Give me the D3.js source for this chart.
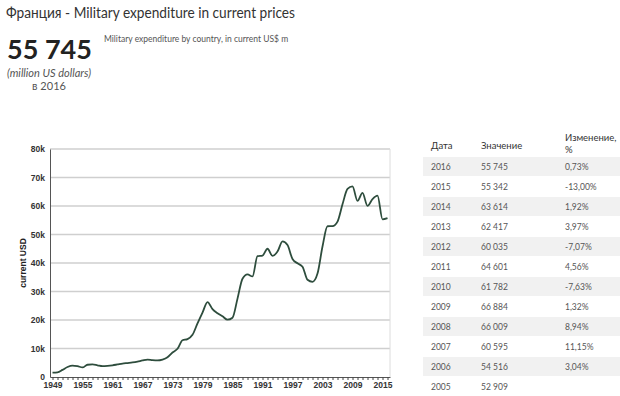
<!DOCTYPE html>
<html>
<head>
<meta charset="utf-8">
<script src="https://cdn.jsdelivr.net/npm/d3@7"></script>
<style>
  body { margin: 0; background: #fff; }
  svg { display: block; }
</style>
</head>
<body>
<script>
var width = 620,
    height = 396;

var lineColor = '#2e4d3d';

// military expenditure, current US$ m, one value per year from 1949
var firstYear = 1949;
var spending = [
  1550, 1650, 2500, 3500, 4000, 3800, 3350, 4300, 4400, 4100,
  3800, 3900, 4100, 4400, 4700, 4900, 5100, 5400, 5800, 6100,
  5900, 5800, 6100, 6900, 8600, 9900, 12900, 13300, 14800, 18800,
  22600, 26300, 23800, 22400, 21300, 20100, 20800, 27500, 34500, 36000,
  35300, 42400, 42600, 45000, 42500, 44000, 47600, 46300, 41400, 39900,
  38700, 34100, 33400, 36300, 45800, 52900, 52909, 54516, 60595, 66009,
  66884, 61782, 64601, 60035, 62417, 63614, 55342, 55745
];

var yTicks = [0, 10000, 20000, 30000, 40000, 50000, 60000, 70000, 80000];
var xLabelYears = [1949, 1955, 1961, 1967, 1973, 1979, 1985, 1991, 1997, 2003, 2009, 2015];

var tableYears = [2016, 2015, 2014, 2013, 2012, 2011, 2010, 2009, 2008, 2007, 2006, 2005];
var tableChanges = ['0,73%', '-13,00%', '1,92%', '3,97%', '-7,07%', '4,56%', '-7,63%',
                    '1,32%', '8,94%', '11,15%', '3,04%', ''];

var data = spending.map(function(v, i) { return { year: firstYear + i, value: v }; });

var ru = d3.formatLocale({ decimal: ',', thousands: '\u00a0', grouping: [3], currency: ['', ''] });
var fmt = ru.format(',d');

var svg = d3.select('body')
  .append('svg')
  .attr('width', width)
  .attr('height', height);

// header
svg.append('text')
  .attr('x', 6)
  .attr('y', 18)
  .attr('textLength', 289)
  .attr('lengthAdjust', 'spacingAndGlyphs')
  .style('font-family', 'Lato, sans-serif')
  .style('font-size', '15.5px')
  .style('fill', '#333')
  .text('Франция - Military expenditure in current prices');

var last = data[data.length - 1];

svg.append('text')
  .attr('x', 7)
  .attr('y', 59)
  .style('font-family', 'Lato, sans-serif')
  .style('font-weight', 'bold')
  .style('font-size', '27px')
  .style('fill', '#222')
  .text(fmt(last.value));

svg.append('text')
  .attr('x', 49)
  .attr('y', 77)
  .attr('text-anchor', 'middle')
  .style('font-family', 'Lato, sans-serif')
  .style('font-style', 'italic')
  .style('font-size', '11px')
  .style('fill', '#555')
  .text('(million US dollars)');

svg.append('text')
  .attr('x', 49)
  .attr('y', 90)
  .attr('text-anchor', 'middle')
  .style('font-family', 'Lato, sans-serif')
  .style('font-size', '11px')
  .style('fill', '#555')
  .text('в ' + last.year);

svg.append('text')
  .attr('x', 104)
  .attr('y', 42)
  .style('font-family', 'Lato, sans-serif')
  .style('font-size', '8.5px')
  .style('fill', '#555')
  .text('Military expenditure by country, in current US$ m');

// chart
var plot = { left: 50, right: 390, top: 149, bottom: 377 };

var x = d3.scaleLinear()
  .domain([firstYear - 0.5, last.year + 0.5])
  .range([plot.left, plot.right]);

var y = d3.scaleLinear()
  .domain([0, 80000])
  .range([plot.bottom, plot.top]);

svg.append('g')
  .selectAll('line')
  .data(yTicks.slice(1))
  .enter()
  .append('line')
  .attr('x1', plot.left)
  .attr('x2', plot.right)
  .attr('y1', function(d) { return y(d); })
  .attr('y2', function(d) { return y(d); })
  .style('stroke', '#cfcfcf')
  .style('stroke-width', 1.6);

svg.append('line')
  .attr('x1', plot.right)
  .attr('x2', plot.right)
  .attr('y1', plot.top)
  .attr('y2', plot.bottom)
  .style('stroke', '#dcdcdc')
  .style('stroke-width', 1);

var yAxis = d3.axisLeft(y)
  .tickValues(yTicks)
  .tickSize(0)
  .tickPadding(5)
  .tickFormat(function(d) { return d === 0 ? '0' : (d / 1000) + 'k'; });

var gy = svg.append('g')
  .attr('transform', 'translate(' + plot.left + ',0)')
  .call(yAxis);
gy.select('.domain').style('stroke', '#555');
gy.selectAll('text')
  .style('font-family', 'Liberation Sans, Arial, sans-serif')
  .style('font-weight', 'bold')
  .style('font-size', '8.5px')
  .style('fill', '#333');

var xAxis = d3.axisBottom(x)
  .tickValues(data.map(function(d) { return d.year; }))
  .tickSize(3)
  .tickSizeOuter(0)
  .tickPadding(2)
  .tickFormat(function(d) { return xLabelYears.indexOf(d) >= 0 ? d : ''; });

var gx = svg.append('g')
  .attr('transform', 'translate(0,' + plot.bottom + ')')
  .call(xAxis);
gx.select('.domain').style('stroke', '#555');
gx.selectAll('.tick line').style('stroke', '#444');
gx.selectAll('text')
  .style('font-family', 'Liberation Sans, Arial, sans-serif')
  .style('font-weight', 'bold')
  .style('font-size', '8.5px')
  .style('fill', '#333');

svg.append('text')
  .attr('transform', 'translate(26,' + ((plot.top + plot.bottom) / 2) + ') rotate(-90)')
  .attr('text-anchor', 'middle')
  .style('font-family', 'Liberation Sans, Arial, sans-serif')
  .style('font-weight', 'bold')
  .style('font-size', '8.5px')
  .style('fill', '#222')
  .text('current USD');

var line = d3.line()
  .x(function(d) { return x(d.year); })
  .y(function(d) { return y(d.value); })
  .curve(d3.curveMonotoneX);

svg.append('path')
  .datum(data)
  .attr('d', line)
  .style('fill', 'none')
  .style('stroke', lineColor)
  .style('stroke-width', 1.8);

// table
var tbl = { left: 423, top: 157, rowH: 20, cols: [431, 481, 565] };

var head = svg.append('g')
  .style('font-family', 'Lato, sans-serif')
  .style('font-size', '9.5px')
  .style('fill', '#333');
head.append('text').attr('x', tbl.cols[0]).attr('y', 149).text('Дата');
head.append('text').attr('x', tbl.cols[1]).attr('y', 149).text('Значение');
head.append('text').attr('x', tbl.cols[2]).attr('y', 141).text('Изменение,');
head.append('text').attr('x', tbl.cols[2]).attr('y', 153).text('%');

var rows = svg.append('g')
  .selectAll('g')
  .data(tableYears)
  .enter()
  .append('g')
  .attr('transform', function(d, i) { return 'translate(0,' + (tbl.top + i * tbl.rowH) + ')'; });

rows.append('rect')
  .attr('x', tbl.left)
  .attr('y', 0)
  .attr('width', width - tbl.left)
  .attr('height', tbl.rowH - 1)
  .style('fill', function(d, i) { return i % 2 === 0 ? '#f1f1f1' : 'none'; });

rows.append('text')
  .attr('x', tbl.cols[0])
  .attr('y', 13)
  .text(function(d) { return d; });

rows.append('text')
  .attr('x', tbl.cols[1])
  .attr('y', 13)
  .text(function(d) { return fmt(data[d - firstYear].value); });

rows.append('text')
  .attr('x', tbl.cols[2])
  .attr('y', 13)
  .text(function(d, i) { return tableChanges[i]; });

rows.selectAll('text')
  .style('font-family', 'Lato, sans-serif')
  .style('font-size', '8.5px')
  .style('fill', '#555');
</script>
</body>
</html>
